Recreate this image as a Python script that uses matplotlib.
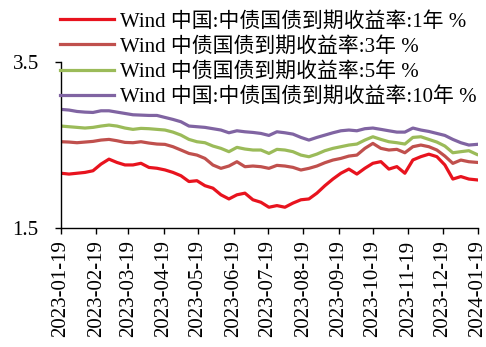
import matplotlib
matplotlib.use("Agg")
import matplotlib.pyplot as plt
import pandas as pd

plt.rcParams['font.family'] = ['Liberation Serif', 'Noto Sans CJK SC', 'DejaVu Sans']

dates = pd.date_range('2023-01-19', periods=53, freq='7D')

y1 = [2.16, 2.15, 2.16, 2.17, 2.19, 2.27, 2.33, 2.29, 2.26, 2.26, 2.28, 2.23, 2.22,
      2.20, 2.17, 2.13, 2.06, 2.07, 2.01, 1.98, 1.90, 1.85, 1.90, 1.92, 1.84, 1.81,
      1.75, 1.77, 1.75, 1.80, 1.84, 1.85, 1.92, 2.01, 2.09, 2.16, 2.21, 2.15, 2.22,
      2.28, 2.30, 2.21, 2.24, 2.16, 2.32, 2.36, 2.39, 2.36, 2.26, 2.09, 2.12, 2.09, 2.08]

y3 = [2.54, 2.536, 2.528, 2.536, 2.544, 2.56, 2.568, 2.552, 2.532, 2.528, 2.54, 2.524, 2.512,
      2.508, 2.48, 2.44, 2.399, 2.379, 2.339, 2.259, 2.219, 2.247, 2.299, 2.239, 2.247, 2.239,
      2.219, 2.255, 2.247, 2.231, 2.199, 2.219, 2.247, 2.287, 2.319, 2.339, 2.367, 2.379, 2.46,
      2.52, 2.46, 2.44, 2.448, 2.407, 2.48, 2.50, 2.48, 2.44, 2.367, 2.279, 2.319, 2.299, 2.291]

y5 = [2.729, 2.721, 2.713, 2.705, 2.713, 2.729, 2.741, 2.729, 2.705, 2.689, 2.701, 2.697, 2.689,
      2.681, 2.656, 2.62, 2.568, 2.54, 2.528, 2.488, 2.46, 2.42, 2.472, 2.452, 2.44, 2.44,
      2.399, 2.448, 2.44, 2.42, 2.379, 2.359, 2.391, 2.432, 2.46, 2.48, 2.50, 2.512, 2.56,
      2.60, 2.568, 2.54, 2.528, 2.512, 2.592, 2.60, 2.568, 2.536, 2.488, 2.407, 2.42, 2.432, 2.387]

y10 = [2.93, 2.922, 2.905, 2.897, 2.893, 2.913, 2.913, 2.897, 2.881, 2.865, 2.861, 2.857, 2.857,
       2.833, 2.809, 2.781, 2.729, 2.721, 2.713, 2.697, 2.681, 2.648, 2.672, 2.66, 2.652, 2.64,
       2.616, 2.66, 2.648, 2.632, 2.592, 2.56, 2.592, 2.62, 2.648, 2.672, 2.681, 2.672, 2.697,
       2.705, 2.689, 2.672, 2.656, 2.656, 2.705, 2.681, 2.664, 2.64, 2.616, 2.568, 2.528, 2.50, 2.508]

labels = ['Wind 中国:中债国债到期收益率:1年 %',
          'Wind 中债国债到期收益率:3年 %',
          'Wind 中债国债到期收益率:5年 %',
          'Wind 中国:中债国债到期收益率:10年 %']
colors = ['#E8131E', '#C0504D', '#9BBB59', '#8064A2']

tick_labels = ['2023-01-19', '2023-02-19', '2023-03-19', '2023-04-19', '2023-05-19',
               '2023-06-19', '2023-07-19', '2023-08-19', '2023-09-19', '2023-10-19',
               '2023-11-19', '2023-12-19', '2024-01-19']
y_ticks = [1.5, 3.5]

fig = plt.figure(figsize=(4.86, 3.47), dpi=100)
ax = fig.add_axes([0.1255, 0.343, 0.858, 0.478])

for ys, c, lab in zip([y1, y3, y5, y10], colors, labels):
    ax.plot(dates, ys, color=c, lw=2.3, label=lab, solid_joinstyle='round')

tick_dates = pd.to_datetime(tick_labels)
ax.set_xticks(tick_dates)
ax.set_xticklabels(tick_labels, rotation=90)
ax.set_xlim(tick_dates[0], tick_dates[-1])
ax.set_ylim(1.5, 3.5)
ax.set_yticks(y_ticks)
ax.set_yticklabels([str(v) for v in y_ticks])

for s in ['top', 'right']:
    ax.spines[s].set_visible(False)
for s in ['left', 'bottom']:
    ax.spines[s].set_linewidth(1.0)
    ax.spines[s].set_color('black')

ax.tick_params(axis='x', direction='out', length=4, width=1, labelsize=15, pad=5)
ax.tick_params(axis='y', direction='out', length=4, width=1, labelsize=15, pad=12)

fig.legend(loc='upper left', bbox_to_anchor=(0.115, 0.978), frameon=False,
           fontsize=15, handlelength=2.6, handletextpad=0.3, labelspacing=0.26,
           borderpad=0.2, borderaxespad=0)

fig.savefig('out.png', dpi=100)
